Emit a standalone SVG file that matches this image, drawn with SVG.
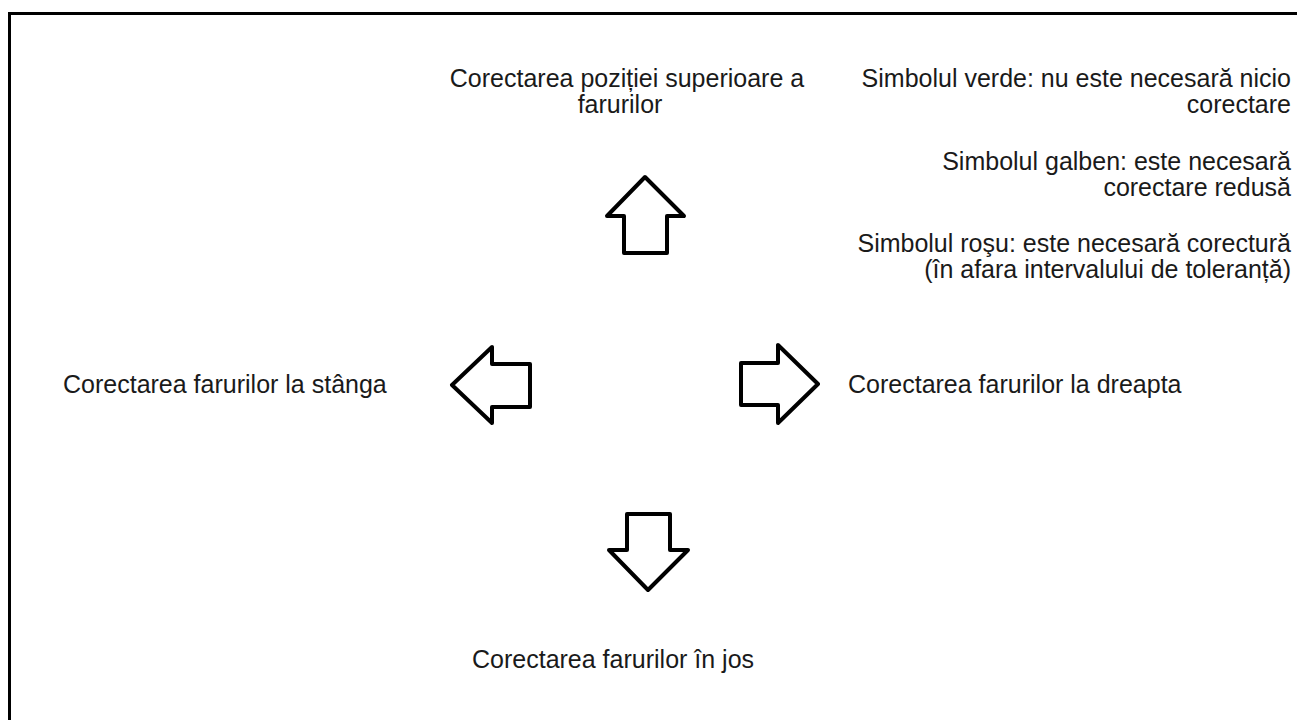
<svg xmlns="http://www.w3.org/2000/svg" width="1297" height="720" viewBox="0 0 1297 720">
<style>
.t{font-family:"Liberation Sans",Arial,sans-serif;font-size:25px;fill:#1a1a1a}
.r{text-anchor:end}
.m{text-anchor:middle}
.arr{fill:#fff;stroke:#000;stroke-width:4;stroke-linejoin:round}
</style>
<rect x="0" y="0" width="1297" height="720" fill="#fff"/>
<rect x="9.5" y="13.5" width="1300" height="720" fill="none" stroke="#000" stroke-width="3"/>
<g id="connectors">
<polygon id="arrow-up" class="arr" points="645,177 684,216 667,216 667,253 624,253 624,216 607,216"/>
<polygon id="arrow-left" class="arr" points="452,385 492,347 492,364 530,364 530,407 492,407 492,423"/>
<polygon id="arrow-right" class="arr" points="818,384 778,345 778,363 741,363 741,405 778,405 778,423"/>
<polygon id="arrow-down" class="arr" points="648,590 688,550 670,550 670,514 627,514 627,550 609,550"/>
</g>
<g id="node-up">
<text class="t m" x="627" y="87">Corectarea poziției superioare a</text>
<text class="t m" x="620" y="113">farurilor</text>
</g>
<g id="node-left">
<text class="t" x="63" y="393">Corectarea farurilor la stânga</text>
</g>
<g id="node-right">
<text class="t" x="848" y="393">Corectarea farurilor la dreapta</text>
</g>
<g id="node-down">
<text class="t" x="472" y="668">Corectarea farurilor în jos</text>
</g>
<g id="legend">
<text class="t r" x="1291" y="87">Simbolul verde: nu este necesară nicio</text>
<text class="t r" x="1291" y="113">corectare</text>
<text class="t r" x="1291" y="170">Simbolul galben: este necesară</text>
<text class="t r" x="1291" y="196">corectare redusă</text>
<text class="t r" x="1291" y="252">Simbolul roşu: este necesară corectură</text>
<text class="t r" x="1291" y="278">(în afara intervalului de toleranță)</text>
</g>
</svg>
